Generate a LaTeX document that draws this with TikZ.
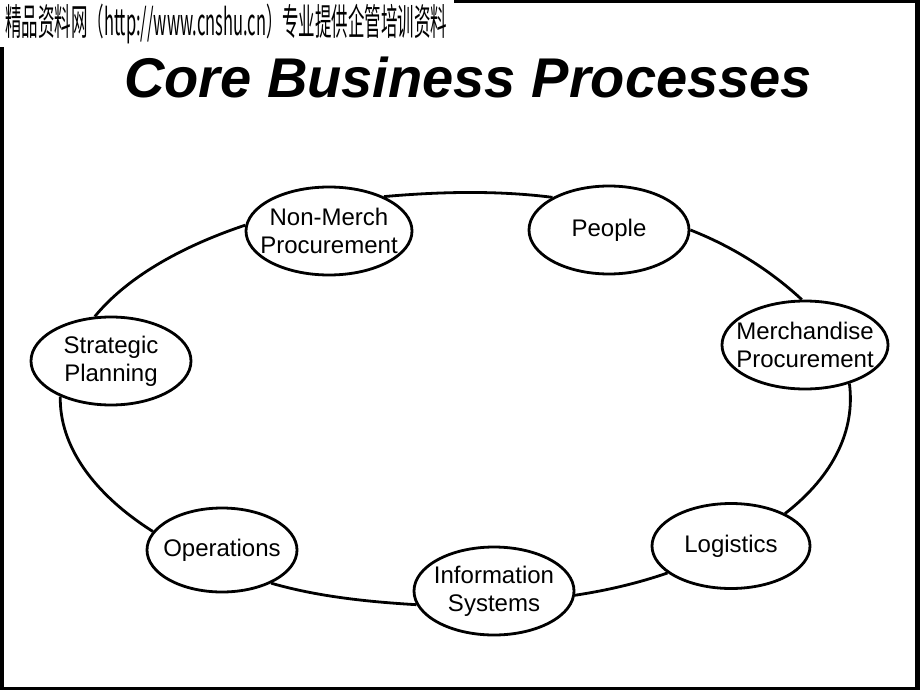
\documentclass[tikz,border=0pt]{standalone}
\usepackage{fontspec}
\setmainfont{Liberation Sans}
\newfontfamily\cjk{Noto Sans CJK SC}
\usepackage{tikz}
\usetikzlibrary{shapes.geometric,positioning,calc}

\begin{document}
\begin{tikzpicture}[
    x=1pt, y=-1pt,
    proc/.style={ellipse, draw, line width=2.8pt, fill=white, inner xsep=-10pt, inner ysep=0pt, minimum width=160pt, minimum height=88pt, align=center, font=\fontsize{24}{28}\selectfont},
    link/.style={line width=2.8pt},
    heading/.style={font=\fontsize{56}{60}\selectfont\bfseries\itshape, anchor=base}
]
    \useasboundingbox (0,0) rectangle (920,690);

    % Frame and header strip
    \fill[black] (0,0) rectangle (920,690);
    \fill[white] (4,3) rectangle (915,687);
    \fill[white] (0,0) rectangle (454,47);
    \node[anchor=west, inner sep=0pt] (banner) at (5,24) {\resizebox*{442pt}{40pt}{\cjk 精品资料网（http://www.cnshu.cn）专业提供企管培训资料}};

    % Title
    \node[heading] (title) at (468,98) {Core Business Processes};

    % Process ring
    \node[proc] (strat) at (111,361) {Strategic\\Planning};
    \node[proc, minimum width=166pt] (nonmerch) at (329,231) {Non-Merch\\Procurement};
    \node[proc] (people) at (609,230) {People};
    \node[proc, minimum width=166pt] (merch) at (805,345) {Merchandise\\Procurement};
    \node[proc, minimum width=158pt, minimum height=85pt] (logistics) at (731,546) {Logistics};
    \node[proc] (infosys) at (494,591) {Information\\Systems};
    \node[proc, minimum width=150pt, minimum height=84pt] (operations) at (222,550) {Operations};

    % Links along the big loop
    \draw[link] (strat.110.7) .. controls +(31,-38) and +(-66,22) .. (nonmerch.176);
    \draw[link] (nonmerch.32.8) .. controls +(56,-5) and +(-55,-7) .. (people.150);
    \draw[link] (people.-0.7) .. controls +(46,18) and +(-28,-26) .. (merch.94.9);
    \draw[link] (merch.-41.6) .. controls +(6,46) and +(49,-38) .. (logistics.31.1);
    \draw[link] (logistics.203.2) .. controls +(-29,10) and +(33,-5) .. (infosys.-3.6);
    \draw[link] (infosys.190.3) .. controls +(-51,-3) and +(45,13) .. (operations.-34);
    \draw[link] (operations.165.4) .. controls +(-60,-38) and +(-1,49) .. (strat.215.8);
\end{tikzpicture}
\end{document}
